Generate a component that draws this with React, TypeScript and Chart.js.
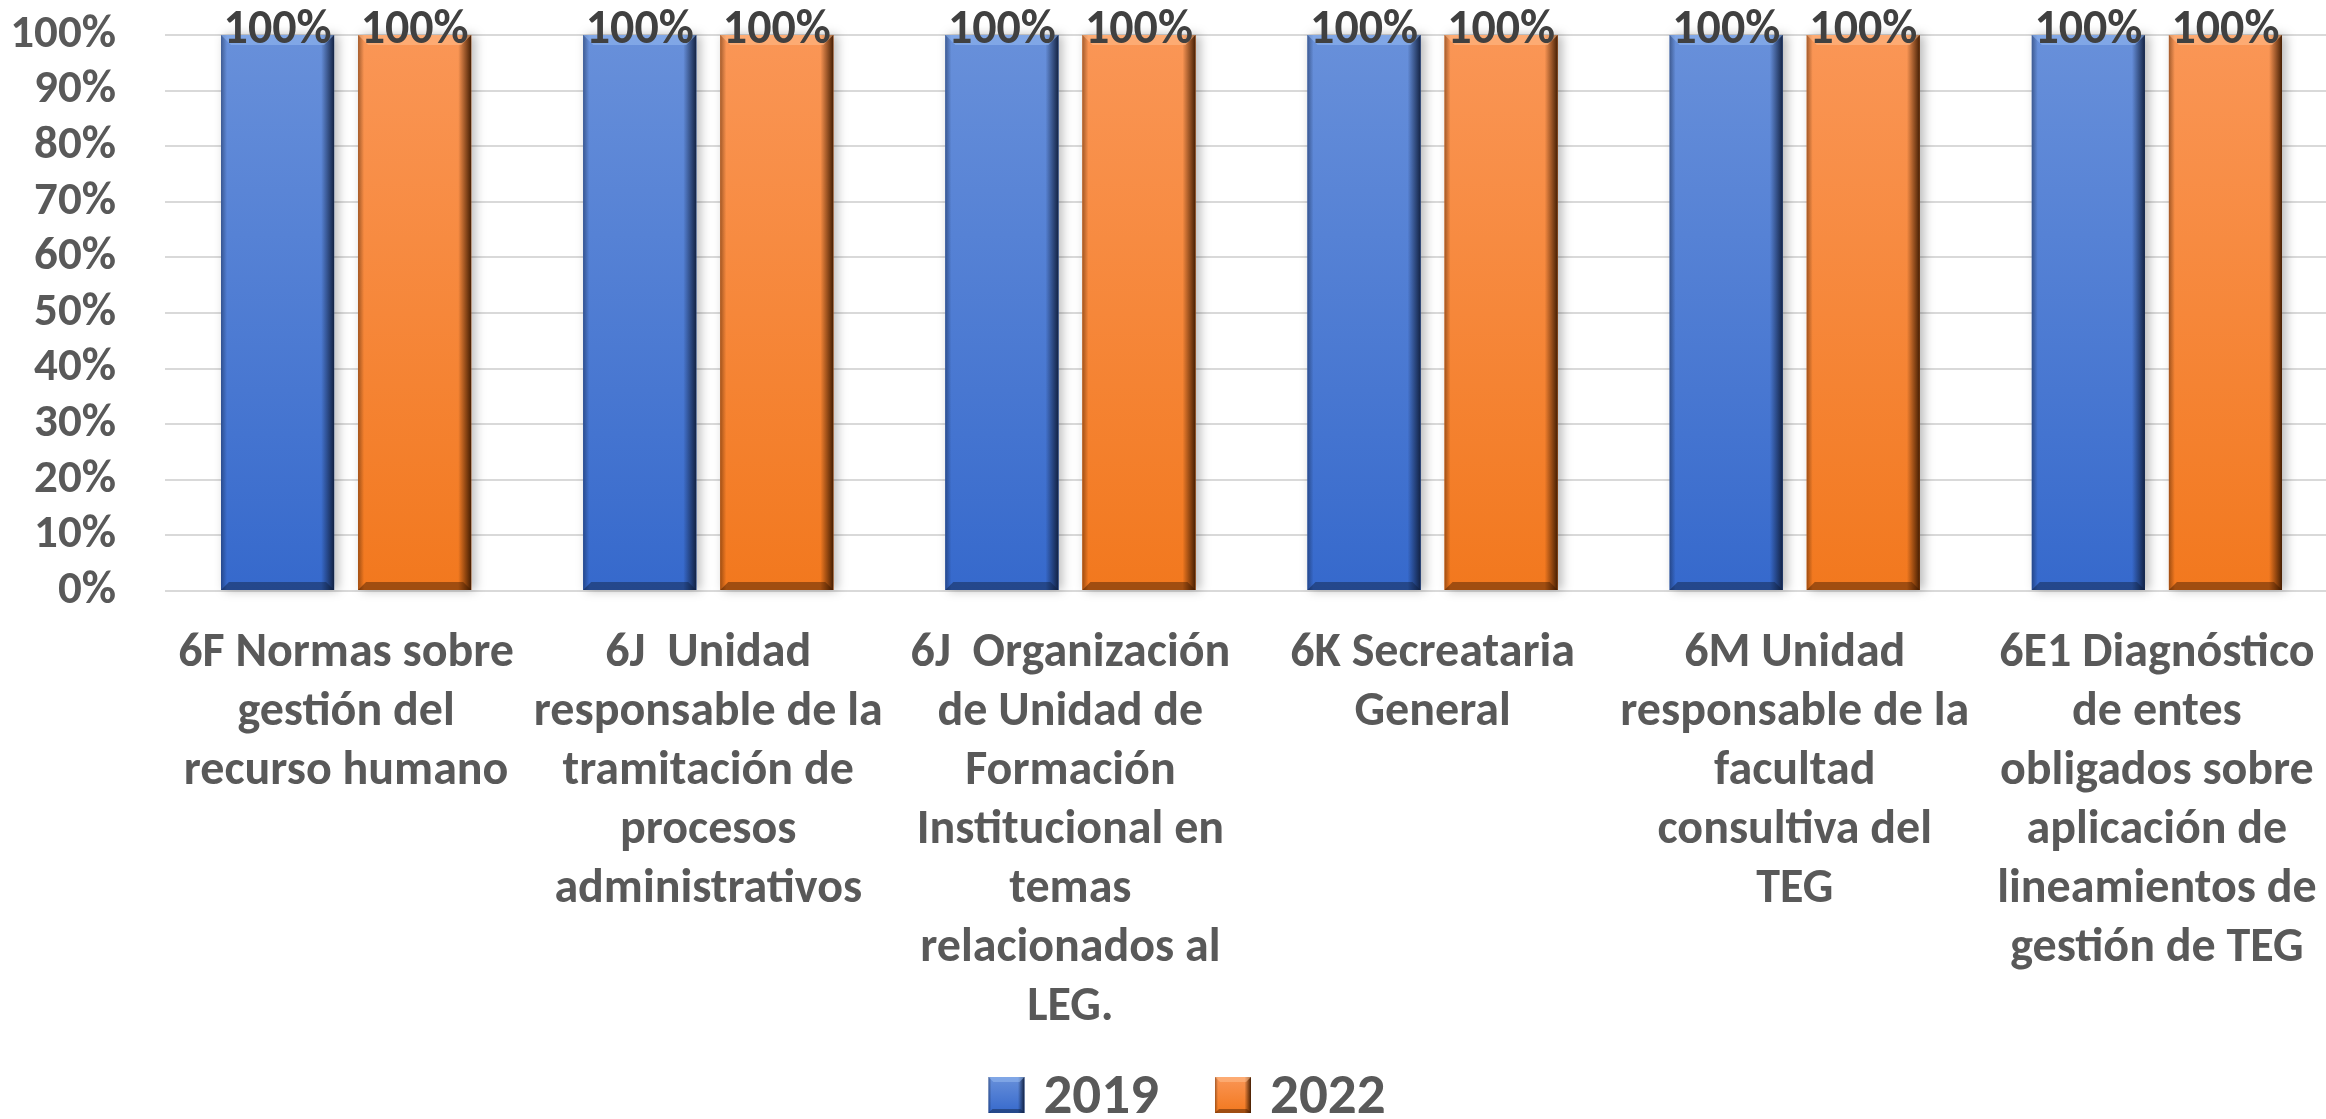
import React, { useEffect, useRef } from "react";
import { Chart, registerables } from "chart.js";

Chart.register(...registerables);

// ---------- data ----------
const categories: string[][] = [
  ["6F Normas sobre", "gestión del", "recurso humano"],
  ["6J  Unidad", "responsable de la", "tramitación de", "procesos", "administrativos"],
  ["6J  Organización", "de Unidad de", "Formación", "Institucional en", "temas", "relacionados al", "LEG."],
  ["6K Secreataria", "General"],
  ["6M Unidad", "responsable de la", "facultad", "consultiva del", "TEG"],
  ["6E1 Diagnóstico", "de entes", "obligados sobre", "aplicación de", "lineamientos de", "gestión de TEG"],
];
const seriesNames = ["2019", "2022"];
const values2019 = [1, 1, 1, 1, 1, 1];
const values2022 = [1, 1, 1, 1, 1, 1];

// ---------- styles ----------
const FONT = "Carlito, Lato, 'Open Sans', sans-serif";
const AXIS_COLOR = "#595959";
const LABEL_COLOR = "#404040";
const PALETTES = [
  { base: "#4472c4", top: "#6890da", bottom: "#3669cc", dark: "rgba(16,30,60,", hi: "rgba(150,185,240,0.55)" },
  { base: "#ed7d31", top: "#fa9656", bottom: "#f2781e", dark: "rgba(60,25,0,", hi: "rgba(255,190,140,0.55)" },
];

const CANVAS_W = 2338;
const CANVAS_H = 1119;

function drawBevelRect(ctx: CanvasRenderingContext2D, l: number, t: number, w: number, h: number, pal: any, shadow: boolean, scale = 1) {
  const r = l + w;
  const b = t + h;
  ctx.save();
  if (shadow) {
    ctx.shadowColor = "rgba(0,0,0,0.28)";
    ctx.shadowBlur = 10;
    ctx.shadowOffsetX = 4;
  }
  const g = ctx.createLinearGradient(0, t, 0, b);
  g.addColorStop(0, pal.top);
  g.addColorStop(1, pal.bottom);
  ctx.fillStyle = g;
  ctx.fillRect(l, t, w, h);
  ctx.shadowColor = "transparent";
  ctx.shadowBlur = 0;
  ctx.shadowOffsetX = 0;
  const er = 13 * scale;
  const gr = ctx.createLinearGradient(r - er, 0, r, 0);
  gr.addColorStop(0, pal.dark + "0)");
  gr.addColorStop(1, pal.dark + "0.95)");
  ctx.fillStyle = gr;
  ctx.fillRect(r - er, t, er, h);
  const el = 6 * scale;
  const gl = ctx.createLinearGradient(l, 0, l + el, 0);
  gl.addColorStop(0, pal.dark + "0.45)");
  gl.addColorStop(1, pal.dark + "0)");
  ctx.fillStyle = gl;
  ctx.fillRect(l, t, el, h);
  const bt = 10 * scale;
  ctx.beginPath();
  ctx.moveTo(l, t);
  ctx.lineTo(r, t);
  ctx.lineTo(r - bt, t + bt);
  ctx.lineTo(l + bt, t + bt);
  ctx.closePath();
  ctx.fillStyle = pal.hi;
  ctx.fill();
  const bb = 8 * scale;
  ctx.beginPath();
  ctx.moveTo(l, b);
  ctx.lineTo(r, b);
  ctx.lineTo(r - bb, b - bb);
  ctx.lineTo(l + bb, b - bb);
  ctx.closePath();
  ctx.fillStyle = pal.dark + "0.45)";
  ctx.fill();
  ctx.restore();
}

const bevelPlugin = {
  id: "bevel",
  afterDatasetsDraw(chart: any) {
    const ctx = chart.ctx as CanvasRenderingContext2D;
    chart.data.datasets.forEach((_ds: any, di: number) => {
      const meta = chart.getDatasetMeta(di);
      const pal = PALETTES[di];
      meta.data.forEach((bar: any) => {
        const { x, y, base, width } = bar.getProps(["x", "y", "base", "width"], true);
        const t = Math.min(y, base);
        const b = Math.max(y, base);
        drawBevelRect(ctx, x - width / 2, t, width, b - t, pal, true);
      });
    });
  },
};

const valueLabelPlugin = {
  id: "valueLabels",
  afterDatasetsDraw(chart: any) {
    const ctx = chart.ctx as CanvasRenderingContext2D;
    ctx.save();
    ctx.font = `bold 48px ${FONT}`;
    ctx.fillStyle = LABEL_COLOR;
    ctx.textAlign = "center";
    ctx.textBaseline = "alphabetic";
    chart.data.datasets.forEach((ds: any, di: number) => {
      const meta = chart.getDatasetMeta(di);
      meta.data.forEach((bar: any, i: number) => {
        const v = ds.data[i];
        ctx.fillText(`${Math.round(v * 100)}%`, bar.x, bar.y + 8);
      });
    });
    ctx.restore();
  },
};

const legendPlugin = {
  id: "bevelLegend",
  afterDraw(chart: any) {
    const ctx = chart.ctx as CanvasRenderingContext2D;
    ctx.save();
    const font = `bold 57px ${FONT}`;
    ctx.font = font;
    const boxW = 36;
    const boxH = 36;
    const gapBT = 19;
    const gapItem = 56;
    const labels: string[] = chart.data.datasets.map((d: any) => d.label);
    const widths = labels.map((s) => ctx.measureText(s).width);
    const total = widths.reduce((s, w) => s + boxW + gapBT + w, 0) + gapItem * (labels.length - 1);
    let x = chart.width / 2 + 18 - total / 2;
    const baseY = chart.height - 6;
    labels.forEach((s, i) => {
      drawBevelRect(ctx, x, baseY - boxH, boxW, boxH, PALETTES[i], false, 0.5);
      ctx.fillStyle = AXIS_COLOR;
      ctx.textAlign = "left";
      ctx.textBaseline = "alphabetic";
      ctx.font = font;
      ctx.fillText(s, x + boxW + gapBT, baseY);
      x += boxW + gapBT + widths[i] + gapItem;
    });
    ctx.restore();
  },
};

export default function App() {
  const canvasRef = useRef<HTMLCanvasElement | null>(null);

  useEffect(() => {
    const canvas = canvasRef.current;
    if (!canvas) return;
    const chart = new Chart(canvas, {
      type: "bar",
      data: {
        labels: categories,
        datasets: [
          {
            label: seriesNames[0],
            data: values2019,
            backgroundColor: PALETTES[0].base,
            borderWidth: 0,
            categoryPercentage: 0.757,
            barPercentage: 0.825,
          },
          {
            label: seriesNames[1],
            data: values2022,
            backgroundColor: PALETTES[1].base,
            borderWidth: 0,
            categoryPercentage: 0.757,
            barPercentage: 0.825,
          },
        ],
      },
      options: {
        animation: false,
        responsive: false,
        devicePixelRatio: 1,
        layout: { padding: { top: 35, right: 0, bottom: 64, left: 0 } },
        plugins: {
          legend: { display: false },
          tooltip: { enabled: false },
        },
        scales: {
          x: {
            grid: { display: false, drawTicks: false },
            border: { display: false },
            ticks: {
              autoSkip: false,
              maxRotation: 0,
              minRotation: 0,
              padding: 33,
              color: AXIS_COLOR,
              font: { family: FONT, size: 48, weight: "bold", lineHeight: 1.23 },
            },
            afterFit: (scale: any) => {
              scale.height = 464;
              scale.paddingLeft = 0;
              scale.paddingRight = 0;
            },
          },
          y: {
            min: 0,
            max: 1,
            grid: { color: "#d9d9d9", lineWidth: 2, drawTicks: false },
            border: { display: false },
            ticks: {
              autoSkip: false,
              stepSize: 0.1,
              padding: 49,
              color: AXIS_COLOR,
              font: { family: FONT, size: 47, weight: "bold" },
              callback: (v: any) => `${Math.round(Number(v) * 100)}%`,
            },
            afterFit: (scale: any) => {
              scale.width = 165;
              scale.paddingTop = 0;
              scale.paddingBottom = 0;
            },
          },
        },
      },
      plugins: [bevelPlugin, valueLabelPlugin, legendPlugin],
    } as any);
    return () => chart.destroy();
  }, []);

  return (
    <div
      style={{
        position: "fixed",
        left: 0,
        top: 0,
        width: 2326,
        height: 1119,
        overflow: "hidden",
        background: "#ffffff",
      }}
    >
      <canvas ref={canvasRef} width={CANVAS_W} height={CANVAS_H} style={{ display: "block" }} />
    </div>
  );
}
